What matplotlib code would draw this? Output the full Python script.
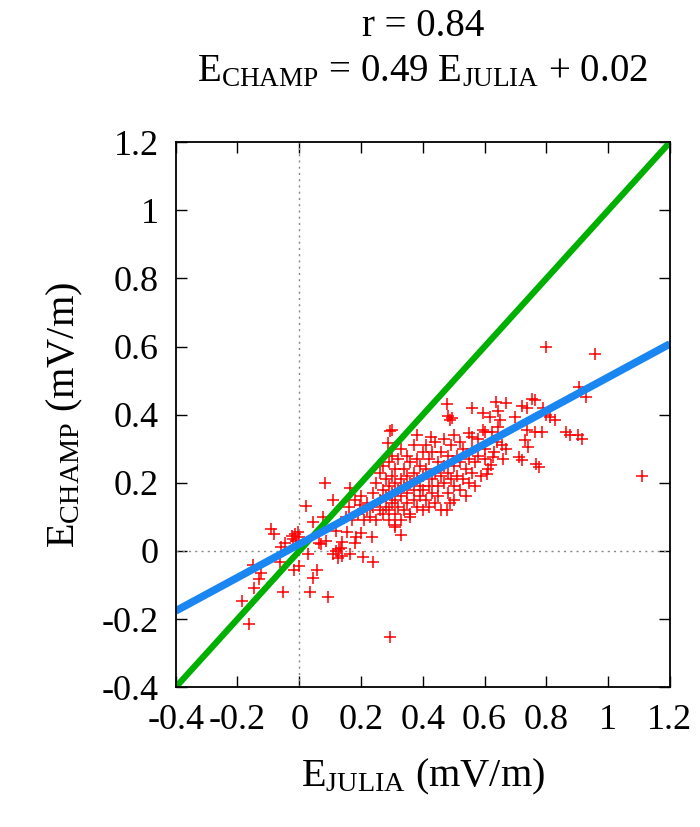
import matplotlib
matplotlib.use('Agg')
import matplotlib.pyplot as plt
import numpy as np
from matplotlib.ticker import FuncFormatter

plt.rcParams['font.family'] = ['Liberation Serif', 'DejaVu Serif']
plt.rcParams['mathtext.fontset'] = 'custom'
plt.rcParams['mathtext.rm'] = 'Liberation Serif'
plt.rcParams['mathtext.it'] = 'Liberation Serif:italic'

# scatter points (E_JULIA, E_CHAMP)
e_julia = [
    -0.186, -0.163, -0.147, -0.13, -0.123, -0.15, -0.092, -0.082, -0.063, -0.054,
    -0.058, -0.047, -0.02, -0.015, -0.005, -0.025, 0.0, -0.01, -0.018, -0.002,
    0.021, 0.045, 0.028, 0.056, 0.043, 0.036, 0.063, 0.07, 0.088, 0.077,
    0.083, 0.092, 0.11,
    0.11, 0.12, 0.125, 0.13, 0.14, 0.135, 0.14, 0.153, 0.163, 0.163,
    0.18, 0.185, 0.196, 0.2, 0.206, 0.238, 0.235, 0.293, 0.12, 0.17,
    0.15, 0.19, 0.16, 0.2, 0.21, 0.22, 0.18,
    0.287, 0.293, 0.299, 0.38, 0.428, 0.477, 0.487, 0.48, 0.495, 0.558,
    0.595, 0.55, 0.56, 0.6, 0.595, 0.617, 0.638, 0.643, 0.65, 0.643,
    0.623, 0.655, 0.627, 0.622, 0.607,
    0.309, 0.331, 0.358, 0.477, 0.487, 0.31,
    0.22, 0.23, 0.24, 0.24, 0.25, 0.25, 0.26, 0.26, 0.26, 0.27,
    0.27, 0.27, 0.28, 0.28, 0.28, 0.29, 0.29, 0.29, 0.29, 0.3,
    0.3, 0.3, 0.3, 0.31, 0.31, 0.31, 0.31,
    0.32, 0.32, 0.32, 0.33, 0.33, 0.33, 0.33, 0.34, 0.34, 0.34,
    0.35, 0.35, 0.35, 0.35, 0.36, 0.36, 0.36, 0.37, 0.37, 0.37,
    0.37, 0.38, 0.38, 0.38, 0.39, 0.39, 0.39, 0.4, 0.4, 0.4, 0.4,
    0.41, 0.41, 0.41, 0.42, 0.42, 0.42, 0.43, 0.43, 0.43, 0.44,
    0.44, 0.44, 0.45, 0.45, 0.45, 0.46, 0.46, 0.46, 0.47, 0.47,
    0.47, 0.48, 0.48, 0.48, 0.49, 0.49, 0.5, 0.5, 0.5, 0.5,
    0.51, 0.51, 0.52, 0.52, 0.52, 0.53, 0.53, 0.54, 0.54, 0.55,
    0.55, 0.56, 0.56, 0.57, 0.57, 0.58, 0.58, 0.59, 0.6, 0.6, 0.61,
    0.63, 0.64, 0.66, 0.67, 0.67, 0.7, 0.72, 0.73, 0.74, 0.736,
    0.711, 0.72, 0.737, 0.752, 0.762, 0.763, 0.785, 0.768, 0.776, 0.789,
    0.8, 0.813, 0.828, 0.862, 0.875, 0.901, 0.917, 0.906, 0.928, 0.8,
    0.957, 1.11,
]
e_champ = [
    -0.147, -0.215, -0.11, -0.083, -0.066, -0.042, 0.066, 0.049, -0.032, -0.12,
    0.013, 0.024, 0.035, 0.05, 0.055, 0.045, 0.04, 0.028, -0.055, -0.045,
    0.131, 0.085, -0.01, -0.055, -0.08, -0.12, 0.024, 0.02, 0.03, 0.1,
    0.2, -0.135, 0.15,
    -0.01, 0.0, -0.02, 0.005, -0.015, 0.01, 0.027, 0.056, -0.01, 0.184,
    0.022, 0.04, 0.134, 0.052, -0.017, -0.032, 0.04, -0.252, 0.06, 0.09,
    0.1, 0.11, 0.13, 0.16, 0.09, 0.12, 0.15,
    0.316, 0.352, 0.354, 0.34, 0.335, 0.431, 0.384, 0.395, 0.39, 0.419,
    0.404, 0.345, 0.335, 0.35, 0.355, 0.393, 0.438, 0.41, 0.384, 0.363,
    0.35, 0.31, 0.275, 0.252, 0.225,
    0.076, 0.046, 0.1, 0.12, 0.14, 0.07,
    0.14, 0.10, 0.13, 0.17, 0.09, 0.2, 0.12, 0.15, 0.23, 0.11,
    0.18, 0.25, 0.13, 0.16, 0.21, 0.09, 0.12, 0.19, 0.26, 0.14,
    0.17, 0.22, 0.28, 0.11, 0.15, 0.2, 0.24,
    0.13, 0.18, 0.27, 0.09, 0.16, 0.21, 0.3, 0.12, 0.19, 0.24,
    0.14, 0.17, 0.22, 0.28, 0.11, 0.2, 0.26, 0.15, 0.18, 0.23,
    0.31, 0.13, 0.21, 0.27, 0.16, 0.19, 0.25, 0.12, 0.22, 0.29, 0.18,
    0.15, 0.24, 0.31, 0.19, 0.27, 0.13, 0.21, 0.17, 0.29, 0.23,
    0.14, 0.32, 0.19, 0.26, 0.16, 0.22, 0.29, 0.12, 0.2, 0.25,
    0.33, 0.17, 0.23, 0.28, 0.21, 0.31, 0.19, 0.25, 0.15, 0.34,
    0.22, 0.28, 0.18, 0.26, 0.32, 0.21, 0.3, 0.24, 0.16, 0.27,
    0.2, 0.23, 0.3, 0.26, 0.19, 0.28, 0.33, 0.22, 0.27, 0.3, 0.24,
    0.29, 0.32, 0.27, 0.3, 0.434, 0.393, 0.425, 0.325, 0.305, 0.355,
    0.275, 0.267, 0.42, 0.445, 0.442, 0.35, 0.35, 0.255, 0.247, 0.419,
    0.4, 0.393, 0.386, 0.349, 0.34, 0.34, 0.33, 0.48, 0.452, 0.6,
    0.578, 0.22,
]

# fit results shown in the title
r_value = 0.84
slope = 0.49
intercept = 0.02

ticks = [-0.4, -0.2, 0, 0.2, 0.4, 0.6, 0.8, 1, 1.2]

fig = plt.figure(figsize=(7, 8.27), dpi=100)
ax = fig.add_axes([0.251, 0.169, 0.706, 0.659])

ax.axhline(0, color='#888888', linestyle=(0, (1.5, 3)), linewidth=1)
ax.axvline(0, color='#888888', linestyle=(0, (1.5, 3)), linewidth=1)

ax.plot(e_julia, e_champ, '+', color='#ff0000', markersize=8, markeredgewidth=1.1)

xs = np.array([-0.4, 1.2])
ax.plot(xs, xs, color='#00b000', linewidth=4.5, solid_capstyle='butt')
ax.plot(xs, slope * xs + intercept, color='#1a86f2', linewidth=5.5, solid_capstyle='butt')

ax.set_xlim(-0.4, 1.2)
ax.set_ylim(-0.4, 1.2)
ax.set_xticks(ticks)
ax.set_yticks(ticks)
fmt = FuncFormatter(lambda v, p: '%g' % round(v, 2))
ax.xaxis.set_major_formatter(fmt)
ax.yaxis.set_major_formatter(fmt)
ax.tick_params(direction='in', length=8, width=1, top=True, right=True,
               labelsize=26, pad=12)
for s in ax.spines.values():
    s.set_linewidth(1.3)

ax.set_xlabel(r'E$_{\rm JULIA}$ (mV/m)', fontsize=29, labelpad=14)
ax.set_ylabel(r'E$_{\rm CHAMP}$ (mV/m)', fontsize=29, labelpad=12)
ax.set_title('r = %.2f\n' % r_value +
             r'E$_{\rm CHAMP}$ = %.2f E$_{\rm JULIA}$ + %.2f' % (slope, intercept),
             fontsize=28, pad=44, linespacing=1.3)

fig.savefig('out.png', dpi=100)
